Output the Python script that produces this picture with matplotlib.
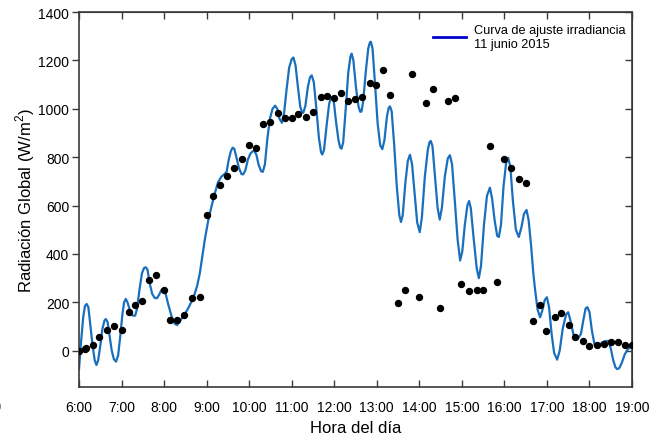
import matplotlib
matplotlib.use("Agg")
import matplotlib.pyplot as plt
from matplotlib.lines import Line2D

plt.rcParams['font.family'] = ['Liberation Sans', 'DejaVu Sans']
plt.rcParams['mathtext.fontset'] = 'custom'
plt.rcParams['mathtext.rm'] = 'Liberation Sans'

# Measured irradiance points (hour, W/m2)
obs_hour = [6.00, 6.13, 6.17, 6.33, 6.48, 6.65, 6.82, 7.00, 7.17, 7.32, 7.49, 7.65, 7.81, 7.99,
            8.15, 8.31, 8.48, 8.65, 8.84, 9.00, 9.16, 9.32, 9.49, 9.65, 9.83, 9.99, 10.15, 10.32,
            10.48, 10.67, 10.84, 11.00, 11.16, 11.33, 11.49, 11.68, 11.84, 12.00, 12.16, 12.33,
            12.49, 12.66, 12.83, 12.99, 13.15, 13.32, 13.50, 13.67, 13.83, 13.99, 14.16, 14.32,
            14.48, 14.67, 14.83, 14.99, 15.16, 15.35, 15.50, 15.67, 15.83, 15.99, 16.15, 16.34,
            16.51, 16.67, 16.84, 16.99, 17.18, 17.34, 17.51, 17.67, 17.84, 18.00, 18.17, 18.35,
            18.50, 18.67, 18.83, 19.00]
obs_val = [0, 8, 12, 25, 55, 86, 104, 86, 159, 188, 207, 293, 313, 253,
           128, 126, 149, 218, 222, 563, 638, 687, 722, 757, 791, 850, 836, 936,
           944, 983, 960, 960, 979, 968, 988, 1048, 1053, 1045, 1067, 1034,
           1039, 1049, 1107, 1097, 1162, 1059, 198, 253, 1142, 222, 1024, 1080,
           178, 1034, 1044, 276, 247, 253, 253, 846, 282, 791, 757, 708,
           694, 123, 187, 80, 140, 155, 108, 56, 40, 20, 25, 29,
           35, 35, 22, 22]

# Fitted curve samples (hour, W/m2)
fit_hour = [6.00, 6.05, 6.10, 6.14, 6.18, 6.22, 6.27, 6.32, 6.37, 6.41, 6.45, 6.50, 6.55, 6.60,
            6.63, 6.67, 6.72, 6.77, 6.82, 6.87, 6.92, 6.97, 7.02, 7.06, 7.10, 7.14, 7.20, 7.26,
            7.32, 7.36, 7.42, 7.48, 7.53, 7.57, 7.61, 7.66, 7.72, 7.78, 7.83, 7.88, 7.94, 7.98,
            8.03, 8.10, 8.18, 8.25, 8.30, 8.36, 8.43, 8.50, 8.58, 8.65, 8.72, 8.78, 8.84, 8.90,
            8.96, 9.04, 9.12, 9.20, 9.27, 9.35, 9.42, 9.47, 9.52, 9.57, 9.61, 9.65, 9.70, 9.76,
            9.82, 9.86, 9.91, 9.97, 10.03, 10.08, 10.12, 10.17, 10.22, 10.28, 10.32, 10.37, 10.43,
            10.49, 10.55, 10.61, 10.66, 10.71, 10.77, 10.82, 10.88, 10.94, 11.00, 11.04, 11.09,
            11.14, 11.20, 11.24, 11.27, 11.32, 11.38, 11.43, 11.47, 11.52, 11.58, 11.64, 11.69,
            11.72, 11.76, 11.82, 11.88, 11.92, 11.95, 11.99, 12.04, 12.10, 12.14, 12.17, 12.21,
            12.27, 12.33, 12.38, 12.41, 12.45, 12.51, 12.57, 12.61, 12.64, 12.68, 12.74, 12.80,
            12.84, 12.86, 12.90, 12.96, 13.02, 13.08, 13.13, 13.18, 13.24, 13.28, 13.31, 13.35,
            13.41, 13.47, 13.53, 13.57, 13.61, 13.67, 13.73, 13.78, 13.83, 13.89, 13.95, 14.01,
            14.06, 14.13, 14.20, 14.24, 14.27, 14.31, 14.37, 14.43, 14.48, 14.53, 14.60, 14.67,
            14.72, 14.77, 14.83, 14.90, 14.96, 15.01, 15.07, 15.13, 15.17, 15.21, 15.28, 15.35,
            15.40, 15.45, 15.52, 15.59, 15.66, 15.71, 15.77, 15.83, 15.87, 15.92, 15.98, 16.04,
            16.09, 16.14, 16.20, 16.27, 16.34, 16.40, 16.46, 16.52, 16.57, 16.63, 16.68, 16.72,
            16.78, 16.84, 16.89, 16.95, 17.00, 17.05, 17.11, 17.17, 17.24, 17.30, 17.37, 17.45,
            17.50, 17.56, 17.62, 17.67, 17.73, 17.80, 17.86, 17.91, 17.95, 18.00, 18.06, 18.12,
            18.16, 18.22, 18.30, 18.38, 18.44, 18.50, 18.56, 18.61, 18.65, 18.70, 18.76, 18.83,
            18.90, 18.96, 19.00]
fit_val = [-76, 40, 140, 185, 193, 180, 100, 20, -40, -59, -40, 20, 90, 125,
           131, 120, 60, 0, -35, -45, -20, 60, 150, 200, 214, 200, 165, 145,
           145, 170, 250, 320, 342, 345, 335, 280, 235, 218, 217, 230, 252, 255,
           240, 190, 140, 112, 106, 118, 138, 155, 180, 205, 235, 270, 320, 390,
           462, 540, 600, 655, 697, 720, 730, 740, 790, 825, 839, 835, 800, 755,
           730, 729, 745, 790, 815, 824, 826, 810, 770, 742, 739, 770, 880,
           960, 1000, 1013, 1000, 960, 942, 980, 1080, 1170, 1205, 1212, 1180,
           1100, 1010, 985, 983, 1010, 1090, 1130, 1138, 1110, 1000, 880, 820,
           811, 830, 930, 1020, 1045, 1049, 1030, 950, 870, 840, 835, 860,
           1000, 1150, 1215, 1228, 1200, 1090, 1010, 988, 988, 1030, 1150, 1250,
           1275, 1277, 1250, 1100, 940, 850, 833, 870, 970, 1003, 1010, 990,
           850, 680, 560, 532, 560, 690, 785, 810, 770, 650, 530, 490,
           550, 720, 830, 862, 867, 845, 720, 590, 542, 590, 720, 795,
           808, 770, 630, 460, 373, 410, 520, 600, 619, 590, 460, 340,
           300, 350, 520, 640, 674, 630, 540, 475, 470, 520, 680, 775,
           797, 760, 620, 500, 470, 510, 565, 582, 540, 430, 320, 255,
           170, 138, 165, 210, 221, 180, 70, -10, -37, 0, 90, 150,
           159, 120, 70, 50, 50, 70, 130, 175, 180, 160, 80, 25,
           14, 20, 35, 40, 40, 10, -40, -68, -76, -72, -50, -15,
           5, 15, 24]

x_ticks = list(range(6, 20))
x_labels = [f"{h}:00" for h in x_ticks]
y_ticks = [0, 200, 400, 600, 800, 1000, 1200, 1400]

fig = plt.figure(figsize=(6.6, 4.35), dpi=100)
ax = fig.add_axes([79/660, 1-388/435, (632-79)/660, (388-13)/435])

ax.plot(fit_hour, fit_val, color='#1a6fbd', lw=1.6, zorder=2)
ax.plot(obs_hour, obs_val, 'o', color='black', ms=4.3, zorder=3)

ax.set_xlim(6, 19)
ax.set_ylim(-150, 1400)
ax.set_xticks(x_ticks)
ax.set_xticklabels(x_labels)
ax.set_yticks(y_ticks)

spine_col = '#3a3a3a'
for s in ax.spines.values():
    s.set_color(spine_col)
    s.set_linewidth(1.2)

ax.tick_params(axis='x', direction='in', length=5, width=1, color=spine_col,
               labelsize=10, pad=9)
ax.tick_params(axis='y', direction='out', length=5, width=1, color=spine_col,
               labelsize=10, pad=2)

sec_x = ax.secondary_xaxis('top')
sec_x.set_xticks(x_ticks)
sec_x.tick_params(direction='in', length=5, width=1, color=spine_col, labeltop=False)
sec_x.spines['top'].set_color(spine_col)
sec_y = ax.secondary_yaxis('right')
sec_y.set_yticks(y_ticks)
sec_y.tick_params(direction='in', length=5, width=1, color=spine_col, labelright=False)
sec_y.spines['right'].set_color(spine_col)

ax.set_xlabel('Hora del día', fontsize=12, labelpad=5)
ax.set_ylabel('Radiación Global (W/m$^2$)', fontsize=12, labelpad=1)

proxy = Line2D([0], [0], color='#0000cc', lw=2)
leg = ax.legend([proxy], ['Curva de ajuste irradiancia\n11 junio 2015'], loc='upper right',
                frameon=False, fontsize=9.2, handlelength=2.6, handletextpad=0.6,
                borderaxespad=0.1, bbox_to_anchor=(1.0, 0.985))

fig.text(2/660, 1-407/435, ')', ha='right', va='center', fontsize=12)

fig.savefig('out.png', dpi=100)
